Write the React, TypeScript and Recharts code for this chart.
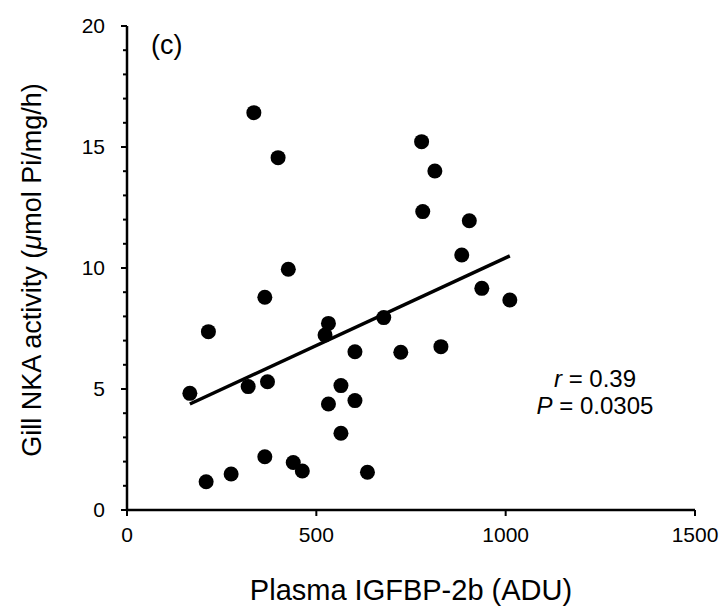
import { Label, Scatter, ScatterChart, XAxis, YAxis } from "recharts";

// Plasma IGFBP-2b (ADU) vs gill NKA activity, one entry per fish
const igfbpValues = [
  166, 209, 215, 275, 320, 335, 364, 364, 371, 399, 426, 439, 463, 523, 532,
  532, 565, 565, 602, 602, 635, 678, 723, 778, 781, 813, 829, 884, 904, 937, 1011,
];
const nkaValues = [
  4.82, 1.17, 7.37, 1.49, 5.1, 16.42, 8.79, 2.2, 5.3, 14.56, 9.95, 1.96, 1.61,
  7.23, 7.71, 4.38, 5.14, 3.17, 6.54, 4.52, 1.56, 7.95, 6.52, 15.22, 12.33,
  14.01, 6.75, 10.54, 11.95, 9.16, 8.68,
];

// regression line end points
const trendX = [166, 1011];
const trendY = [4.38, 10.5];

const xTicks = [0, 500, 1000, 1500];
const yTicks = [0, 1, 2, 3, 4, 5, 6, 7, 8, 9, 10, 11, 12, 13, 14, 15, 16, 17, 18, 19, 20];

const points = igfbpValues.map((x, i) => ({ x, y: nkaValues[i] }));
const trend = trendX.map((x, i) => ({ x, y: trendY[i] }));

const FONT = "'Liberation Sans', Arial, Helvetica, sans-serif";

function YTick(props: any) {
  const { x, y, payload } = props;
  const axisX = x + 22;
  const major = payload.value % 5 === 0;
  return (
    <g>
      <line
        x1={axisX - (major ? 6 : 4)}
        x2={axisX}
        y1={y}
        y2={y}
        stroke="#000"
        strokeWidth={2}
      />
      {major && (
        <text
          x={x}
          y={y}
          dy="0.355em"
          textAnchor="end"
          fontSize={21}
          fontFamily={FONT}
          fill="#000"
        >
          {payload.value}
        </text>
      )}
    </g>
  );
}

function Dot(props: any) {
  return <circle cx={props.cx} cy={props.cy} r={7.5} fill="#000" />;
}

export default function App() {
  return (
    <div style={{ position: "absolute", left: 0, top: 0, background: "#fff" }}>
      <ScatterChart
        width={724}
        height={610}
        margin={{ top: 26, right: 29, bottom: 60, left: 67 }}
        style={{ fontFamily: FONT }}
      >
        <XAxis
          type="number"
          dataKey="x"
          domain={[0, 1500]}
          ticks={xTicks}
          height={40}
          tickSize={6}
          tickMargin={11}
          stroke="#000"
          axisLine={{ stroke: "#000", strokeWidth: 2.5 }}
          tickLine={{ stroke: "#000", strokeWidth: 2 }}
          tick={{ fill: "#000", fontSize: 21, fontFamily: FONT }}
        >
          <Label
            content={() => (
              <text
                x={411}
                y={600}
                textAnchor="middle"
                fontSize={29}
                fontFamily={FONT}
                fill="#000"
              >
                Plasma IGFBP-2b (ADU)
              </text>
            )}
          />
        </XAxis>
        <YAxis
          type="number"
          dataKey="y"
          domain={[0, 20]}
          ticks={yTicks}
          interval={0}
          width={60}
          tickSize={6}
          tickMargin={16}
          axisLine={{ stroke: "#000", strokeWidth: 2.5 }}
          tickLine={false}
          tick={<YTick />}
        >
          <Label
            content={() => (
              <text
                x={41}
                y={270}
                transform="rotate(-90 41 270)"
                textAnchor="middle"
                fontSize={27}
                fontFamily={FONT}
                fill="#000"
              >
                Gill NKA activity (<tspan fontStyle="italic">μ</tspan>mol Pi/mg/h)
              </text>
            )}
          />
        </YAxis>
        <Scatter
          data={points}
          shape={<Dot />}
          isAnimationActive={false}
        />
        <Scatter
          data={trend}
          line={{ stroke: "#000", strokeWidth: 3.5 }}
          shape={() => <g />}
          isAnimationActive={false}
        />
        <text x={151} y={54} fontSize={27} fontFamily={FONT} fill="#000">
          (c)
        </text>
        <text x={595} y={387} textAnchor="middle" fontSize={24} fontFamily={FONT} fill="#000">
          <tspan fontStyle="italic">r</tspan> = 0.39
        </text>
        <text x={595} y={414} textAnchor="middle" fontSize={24} fontFamily={FONT} fill="#000">
          <tspan fontStyle="italic">P</tspan> = 0.0305
        </text>
      </ScatterChart>
    </div>
  );
}
